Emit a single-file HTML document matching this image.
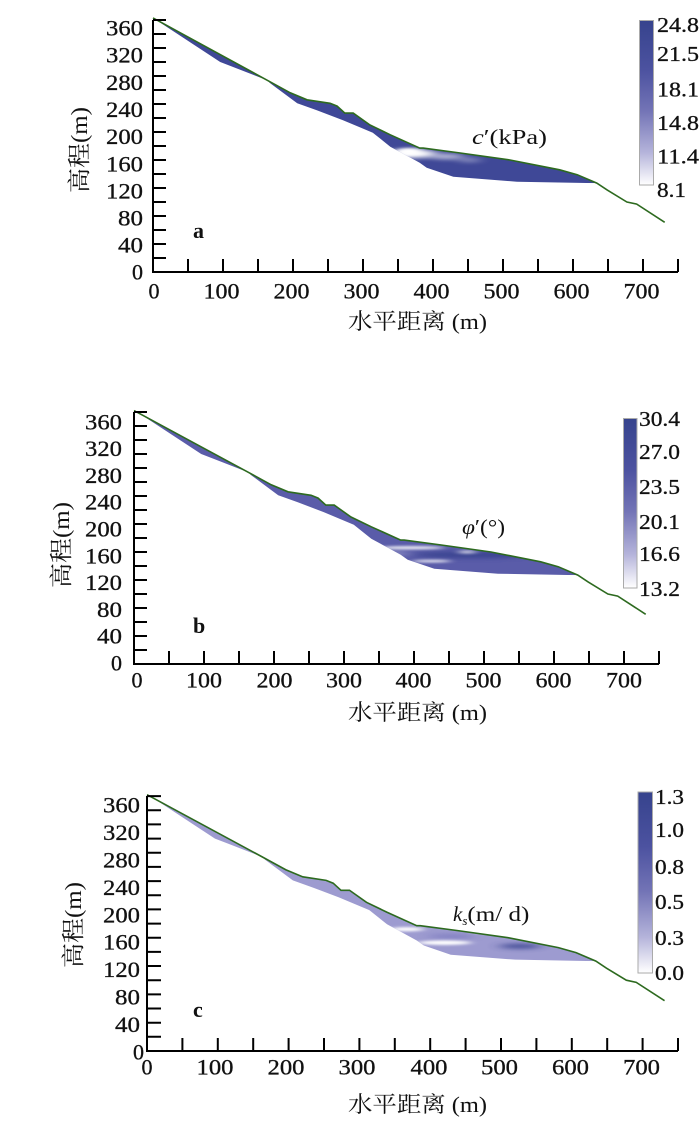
<!DOCTYPE html>
<html><head><meta charset="utf-8">
<style>
html,body{margin:0;padding:0;background:#fff;}
svg{display:block;}
text{font-family:"Liberation Serif","Noto Serif CJK SC",serif;fill:#111;}
.t{stroke:#111;stroke-width:0.3;}
</style></head>
<body>
<svg width="700" height="1134" viewBox="0 0 700 1134" xmlns="http://www.w3.org/2000/svg">
<defs>
  <clipPath id="rg"><polygon points="0,363 163,274 196,256 220,246 253,241 263,237 274,227 286,227 310,210 339,196 381,177 386,177 439,170 510,160 581,146 606,139 634,127 629,127 520,129 429,136 391,149 381,156 339,179 314,199 271,217 234,231 206,241 167,270 163,274 114,293 96,300"/></clipPath>
  <filter id="bl" x="-100%" y="-500%" width="300%" height="1100%"><feGaussianBlur stdDeviation="9 3"/></filter>
  <filter id="bl2" x="-100%" y="-500%" width="300%" height="1100%"><feGaussianBlur stdDeviation="6 1.8"/></filter>
  <linearGradient id="cb" x1="0" y1="0" x2="0" y2="1">
    <stop offset="0" stop-color="#36438d"/>
    <stop offset="0.3" stop-color="#4c52a0"/>
    <stop offset="0.55" stop-color="#7374b6"/>
    <stop offset="0.8" stop-color="#b4b3da"/>
    <stop offset="1" stop-color="#ffffff"/>
  </linearGradient>
</defs>

<!-- ================= PANEL A ================= -->
<g transform="translate(153,272) scale(0.7,-0.7)">
  <g clip-path="url(#rg)">
    <rect x="-10" y="100" width="700" height="300" fill="#3f4897"/>
    <ellipse cx="372" cy="169" rx="34" ry="6" fill="#fff" filter="url(#bl)"/>
    <ellipse cx="365" cy="172" rx="18" ry="5" fill="#fff" filter="url(#bl2)"/>
    <ellipse cx="420" cy="165" rx="24" ry="4" fill="#fff" opacity="0.65" filter="url(#bl)"/>
    <ellipse cx="452" cy="160" rx="16" ry="3" fill="#fff" opacity="0.45" filter="url(#bl)"/>
  </g>
  <polyline points="0,363 163,274 196,256 220,246 253,241 263,237 274,227 286,227 310,210 339,196 381,177 386,177 439,170 510,160 581,146 606,139 634,127 649,117 677,100 691,97 731,71" fill="none" stroke="#2d6a1f" stroke-width="1.6" vector-effect="non-scaling-stroke"/>
</g>
<path d="M153,20 V272 H678" fill="none" stroke="#000" stroke-width="2"/>
<path d="M153,258h13M153,244h13M153,230h13M153,216h13M153,202h13M153,188h13M153,174h13M153,160h13M153,146h13M153,132h13M153,118h13M153,104h13M153,90h13M153,76h13M153,62h13M153,48h13M153,34h13M153,20h13
M188,272v-13M223,272v-13M258,272v-13M293,272v-13M328,272v-13M363,272v-13M398,272v-13M433,272v-13M468,272v-13M503,272v-13M538,272v-13M573,272v-13M608,272v-13M643,272v-13M678,272v-13" stroke="#000" stroke-width="2"/>
<g font-size="22" text-anchor="end" class="t">
  <text x="143" y="279.5" textLength="11" lengthAdjust="spacingAndGlyphs">0</text>
  <text x="143" y="252.5" textLength="25" lengthAdjust="spacingAndGlyphs">40</text>
  <text x="143" y="225.5" textLength="25" lengthAdjust="spacingAndGlyphs">80</text>
  <text x="143" y="198.5" textLength="37" lengthAdjust="spacingAndGlyphs">120</text>
  <text x="143" y="171.5" textLength="37" lengthAdjust="spacingAndGlyphs">160</text>
  <text x="143" y="144" textLength="37" lengthAdjust="spacingAndGlyphs">200</text>
  <text x="143" y="117" textLength="37" lengthAdjust="spacingAndGlyphs">240</text>
  <text x="143" y="90" textLength="37" lengthAdjust="spacingAndGlyphs">280</text>
  <text x="143" y="62.5" textLength="37" lengthAdjust="spacingAndGlyphs">320</text>
  <text x="143" y="35.5" textLength="37" lengthAdjust="spacingAndGlyphs">360</text>
</g>
<g font-size="22" text-anchor="middle" class="t">
  <text x="154" y="298.5" textLength="11" lengthAdjust="spacingAndGlyphs">0</text>
  <text x="221.5" y="298.5" textLength="36" lengthAdjust="spacingAndGlyphs">100</text>
  <text x="291.5" y="298.5" textLength="36" lengthAdjust="spacingAndGlyphs">200</text>
  <text x="361.5" y="298.5" textLength="36" lengthAdjust="spacingAndGlyphs">300</text>
  <text x="431.5" y="298.5" textLength="36" lengthAdjust="spacingAndGlyphs">400</text>
  <text x="501.5" y="298.5" textLength="36" lengthAdjust="spacingAndGlyphs">500</text>
  <text x="571.5" y="298.5" textLength="36" lengthAdjust="spacingAndGlyphs">600</text>
  <text x="641.5" y="298.5" textLength="36" lengthAdjust="spacingAndGlyphs">700</text>
</g>
<text x="348" y="329" font-size="22" textLength="139" lengthAdjust="spacingAndGlyphs">水平距离 (m)</text>
<text transform="translate(87,150) rotate(-90)" font-size="23" text-anchor="middle" textLength="86" lengthAdjust="spacingAndGlyphs">高程(m)</text>
<text x="193" y="238" font-size="22" font-weight="bold">a</text>
<text x="472" y="144" font-size="21" textLength="75" lengthAdjust="spacingAndGlyphs"><tspan font-style="italic">c</tspan>′(kPa)</text>
<rect x="639.5" y="20.5" width="14" height="164.5" fill="url(#cb)" stroke="#aaa" stroke-width="1"/>
<g font-size="21" class="t">
  <text x="657" y="32" textLength="42" lengthAdjust="spacingAndGlyphs">24.8</text>
  <text x="657" y="61" textLength="42" lengthAdjust="spacingAndGlyphs">21.5</text>
  <text x="657" y="96.5" textLength="42" lengthAdjust="spacingAndGlyphs">18.1</text>
  <text x="657" y="130" textLength="42" lengthAdjust="spacingAndGlyphs">14.8</text>
  <text x="657" y="163.5" textLength="42" lengthAdjust="spacingAndGlyphs">11.4</text>
  <text x="657" y="197" textLength="29" lengthAdjust="spacingAndGlyphs">8.1</text>
</g>

<!-- ================= PANEL B ================= -->
<g transform="translate(134,664) scale(0.7,-0.7)">
  <g clip-path="url(#rg)">
    <rect x="-10" y="100" width="700" height="300" fill="#5a5ca9"/>
    <ellipse cx="485" cy="156" rx="85" ry="5" fill="#363f8c" opacity="0.8" filter="url(#bl)"/>
    <ellipse cx="395" cy="166" rx="48" ry="2.5" fill="#fff" opacity="0.85" filter="url(#bl2)"/>
    <ellipse cx="425" cy="147" rx="28" ry="2" fill="#fff" opacity="0.85" filter="url(#bl2)"/>
    <ellipse cx="476" cy="160" rx="13" ry="2.5" fill="#fff" opacity="0.7" filter="url(#bl2)"/>
    <ellipse cx="375" cy="158" rx="20" ry="4" fill="#fff" opacity="0.25" filter="url(#bl)"/>
  </g>
  <polyline points="0,362 163,274 196,256 220,246 253,241 263,237 274,227 286,227 310,210 339,196 381,177 386,177 439,170 510,160 581,146 606,139 634,127 649,117 677,100 691,97 731,71" fill="none" stroke="#2d6a1f" stroke-width="1.6" vector-effect="non-scaling-stroke"/>
</g>
<path d="M134,412 V664 H659" fill="none" stroke="#000" stroke-width="2"/>
<path d="M134,650h13M134,636h13M134,622h13M134,608h13M134,594h13M134,580h13M134,566h13M134,552h13M134,538h13M134,524h13M134,510h13M134,496h13M134,482h13M134,468h13M134,454h13M134,440h13M134,426h13M134,412h13
M169,664v-13M204,664v-13M239,664v-13M274,664v-13M309,664v-13M344,664v-13M379,664v-13M414,664v-13M449,664v-13M484,664v-13M519,664v-13M554,664v-13M589,664v-13M624,664v-13M659,664v-13" stroke="#000" stroke-width="2"/>
<g font-size="22" text-anchor="end" class="t">
  <text x="122" y="670.5" textLength="11" lengthAdjust="spacingAndGlyphs">0</text>
  <text x="122" y="643.7" textLength="25" lengthAdjust="spacingAndGlyphs">40</text>
  <text x="122" y="616.9" textLength="25" lengthAdjust="spacingAndGlyphs">80</text>
  <text x="122" y="590.1" textLength="37" lengthAdjust="spacingAndGlyphs">120</text>
  <text x="122" y="563.3" textLength="37" lengthAdjust="spacingAndGlyphs">160</text>
  <text x="122" y="536.5" textLength="37" lengthAdjust="spacingAndGlyphs">200</text>
  <text x="122" y="509.7" textLength="37" lengthAdjust="spacingAndGlyphs">240</text>
  <text x="122" y="482.9" textLength="37" lengthAdjust="spacingAndGlyphs">280</text>
  <text x="122" y="456.1" textLength="37" lengthAdjust="spacingAndGlyphs">320</text>
  <text x="122" y="429.3" textLength="37" lengthAdjust="spacingAndGlyphs">360</text>
</g>
<g font-size="22" text-anchor="middle" class="t">
  <text x="137" y="687.5" textLength="11" lengthAdjust="spacingAndGlyphs">0</text>
  <text x="204" y="687.5" textLength="36" lengthAdjust="spacingAndGlyphs">100</text>
  <text x="274.5" y="687.5" textLength="36" lengthAdjust="spacingAndGlyphs">200</text>
  <text x="344" y="687.5" textLength="36" lengthAdjust="spacingAndGlyphs">300</text>
  <text x="413.5" y="687.5" textLength="36" lengthAdjust="spacingAndGlyphs">400</text>
  <text x="483.5" y="687.5" textLength="36" lengthAdjust="spacingAndGlyphs">500</text>
  <text x="553.5" y="687.5" textLength="36" lengthAdjust="spacingAndGlyphs">600</text>
  <text x="624" y="687.5" textLength="36" lengthAdjust="spacingAndGlyphs">700</text>
</g>
<text x="348" y="720" font-size="22" textLength="139" lengthAdjust="spacingAndGlyphs">水平距离 (m)</text>
<text transform="translate(69,545) rotate(-90)" font-size="23" text-anchor="middle" textLength="86" lengthAdjust="spacingAndGlyphs">高程(m)</text>
<text x="193" y="633" font-size="22" font-weight="bold">b</text>
<text x="462" y="534" font-size="21" textLength="43" lengthAdjust="spacingAndGlyphs"><tspan font-style="italic">φ</tspan>′(°)</text>
<rect x="623.5" y="418.5" width="13.5" height="169.5" fill="url(#cb)" stroke="#aaa" stroke-width="1"/>
<g font-size="21" class="t">
  <text x="639" y="426" textLength="41" lengthAdjust="spacingAndGlyphs">30.4</text>
  <text x="639" y="459" textLength="41" lengthAdjust="spacingAndGlyphs">27.0</text>
  <text x="639" y="494" textLength="41" lengthAdjust="spacingAndGlyphs">23.5</text>
  <text x="639" y="529" textLength="41" lengthAdjust="spacingAndGlyphs">20.1</text>
  <text x="639" y="561" textLength="41" lengthAdjust="spacingAndGlyphs">16.6</text>
  <text x="639" y="596" textLength="41" lengthAdjust="spacingAndGlyphs">13.2</text>
</g>

<!-- ================= PANEL C ================= -->
<g transform="translate(147,1051) scale(0.708,-0.708)">
  <g clip-path="url(#rg)">
    <rect x="-10" y="100" width="700" height="300" fill="#9d9bd0"/>
    <ellipse cx="430" cy="162" rx="32" ry="3.5" fill="#7d7bbf" opacity="0.8" filter="url(#bl)"/>
    <ellipse cx="527" cy="148" rx="30" ry="3.5" fill="#3a4590" opacity="0.9" filter="url(#bl)"/>
    <ellipse cx="367" cy="172" rx="24" ry="3" fill="#fff" filter="url(#bl2)"/>
    <ellipse cx="420" cy="153" rx="38" ry="3.2" fill="#fff" filter="url(#bl2)"/>
    <ellipse cx="472" cy="169" rx="14" ry="3" fill="#fff" opacity="0.8" filter="url(#bl2)"/>
  </g>
  <polyline points="0,362 163,274 196,256 220,246 253,241 263,237 274,227 286,227 310,210 339,196 381,177 386,177 439,170 510,160 581,146 606,139 634,127 649,117 677,100 691,97 731,71" fill="none" stroke="#2d6a1f" stroke-width="1.6" vector-effect="non-scaling-stroke"/>
</g>
<path d="M147,796 V1051 H678" fill="none" stroke="#000" stroke-width="2"/>
<path d="M147,1036.8h14M147,1022.7h14M147,1008.5h14M147,994.4h14M147,980.2h14M147,966h14M147,951.9h14M147,937.7h14M147,923.6h14M147,909.4h14M147,895.2h14M147,881.1h14M147,866.9h14M147,852.8h14M147,838.6h14M147,824.4h14M147,810.3h14M147,796.1h14
M182.4,1051v-13M217.8,1051v-13M253.2,1051v-13M288.6,1051v-13M324,1051v-13M359.4,1051v-13M394.8,1051v-13M430.2,1051v-13M465.6,1051v-13M501,1051v-13M536.4,1051v-13M571.8,1051v-13M607.2,1051v-13M642.6,1051v-13M678,1051v-13" stroke="#000" stroke-width="2"/>
<g font-size="22" text-anchor="end" class="t">
  <text x="144" y="1059.5" textLength="11" lengthAdjust="spacingAndGlyphs">0</text>
  <text x="140" y="1032" textLength="25" lengthAdjust="spacingAndGlyphs">40</text>
  <text x="140" y="1004.6" textLength="25" lengthAdjust="spacingAndGlyphs">80</text>
  <text x="140" y="977.2" textLength="37" lengthAdjust="spacingAndGlyphs">120</text>
  <text x="140" y="949.7" textLength="37" lengthAdjust="spacingAndGlyphs">160</text>
  <text x="140" y="922.3" textLength="37" lengthAdjust="spacingAndGlyphs">200</text>
  <text x="140" y="894.9" textLength="37" lengthAdjust="spacingAndGlyphs">240</text>
  <text x="140" y="867.4" textLength="37" lengthAdjust="spacingAndGlyphs">280</text>
  <text x="140" y="840" textLength="37" lengthAdjust="spacingAndGlyphs">320</text>
  <text x="140" y="812.5" textLength="37" lengthAdjust="spacingAndGlyphs">360</text>
</g>
<g font-size="22" text-anchor="middle" class="t">
  <text x="147" y="1074.5" textLength="11" lengthAdjust="spacingAndGlyphs">0</text>
  <text x="215" y="1074.5" textLength="37" lengthAdjust="spacingAndGlyphs">100</text>
  <text x="286" y="1074.5" textLength="37" lengthAdjust="spacingAndGlyphs">200</text>
  <text x="357" y="1074.5" textLength="37" lengthAdjust="spacingAndGlyphs">300</text>
  <text x="429" y="1074.5" textLength="37" lengthAdjust="spacingAndGlyphs">400</text>
  <text x="499.5" y="1074.5" textLength="37" lengthAdjust="spacingAndGlyphs">500</text>
  <text x="570.5" y="1074.5" textLength="37" lengthAdjust="spacingAndGlyphs">600</text>
  <text x="641.5" y="1074.5" textLength="37" lengthAdjust="spacingAndGlyphs">700</text>
</g>
<text x="348" y="1112" font-size="22" textLength="139" lengthAdjust="spacingAndGlyphs">水平距离 (m)</text>
<text transform="translate(81,925) rotate(-90)" font-size="23" text-anchor="middle" textLength="86" lengthAdjust="spacingAndGlyphs">高程(m)</text>
<text x="193" y="1017" font-size="22" font-weight="bold">c</text>
<text x="453" y="921" font-size="21"><tspan font-style="italic">k</tspan><tspan font-style="italic" font-size="13" dy="4">s</tspan><tspan dy="-4" textLength="62" lengthAdjust="spacingAndGlyphs">(m/ d)</tspan></text>
<rect x="638" y="792" width="14.5" height="181" fill="url(#cb)" stroke="#aaa" stroke-width="1"/>
<g font-size="21" class="t">
  <text x="655" y="804" textLength="29" lengthAdjust="spacingAndGlyphs">1.3</text>
  <text x="655" y="837" textLength="29" lengthAdjust="spacingAndGlyphs">1.0</text>
  <text x="655" y="874" textLength="29" lengthAdjust="spacingAndGlyphs">0.8</text>
  <text x="655" y="909" textLength="29" lengthAdjust="spacingAndGlyphs">0.5</text>
  <text x="655" y="945" textLength="29" lengthAdjust="spacingAndGlyphs">0.3</text>
  <text x="655" y="980" textLength="29" lengthAdjust="spacingAndGlyphs">0.0</text>
</g>
</svg>
</body></html>
